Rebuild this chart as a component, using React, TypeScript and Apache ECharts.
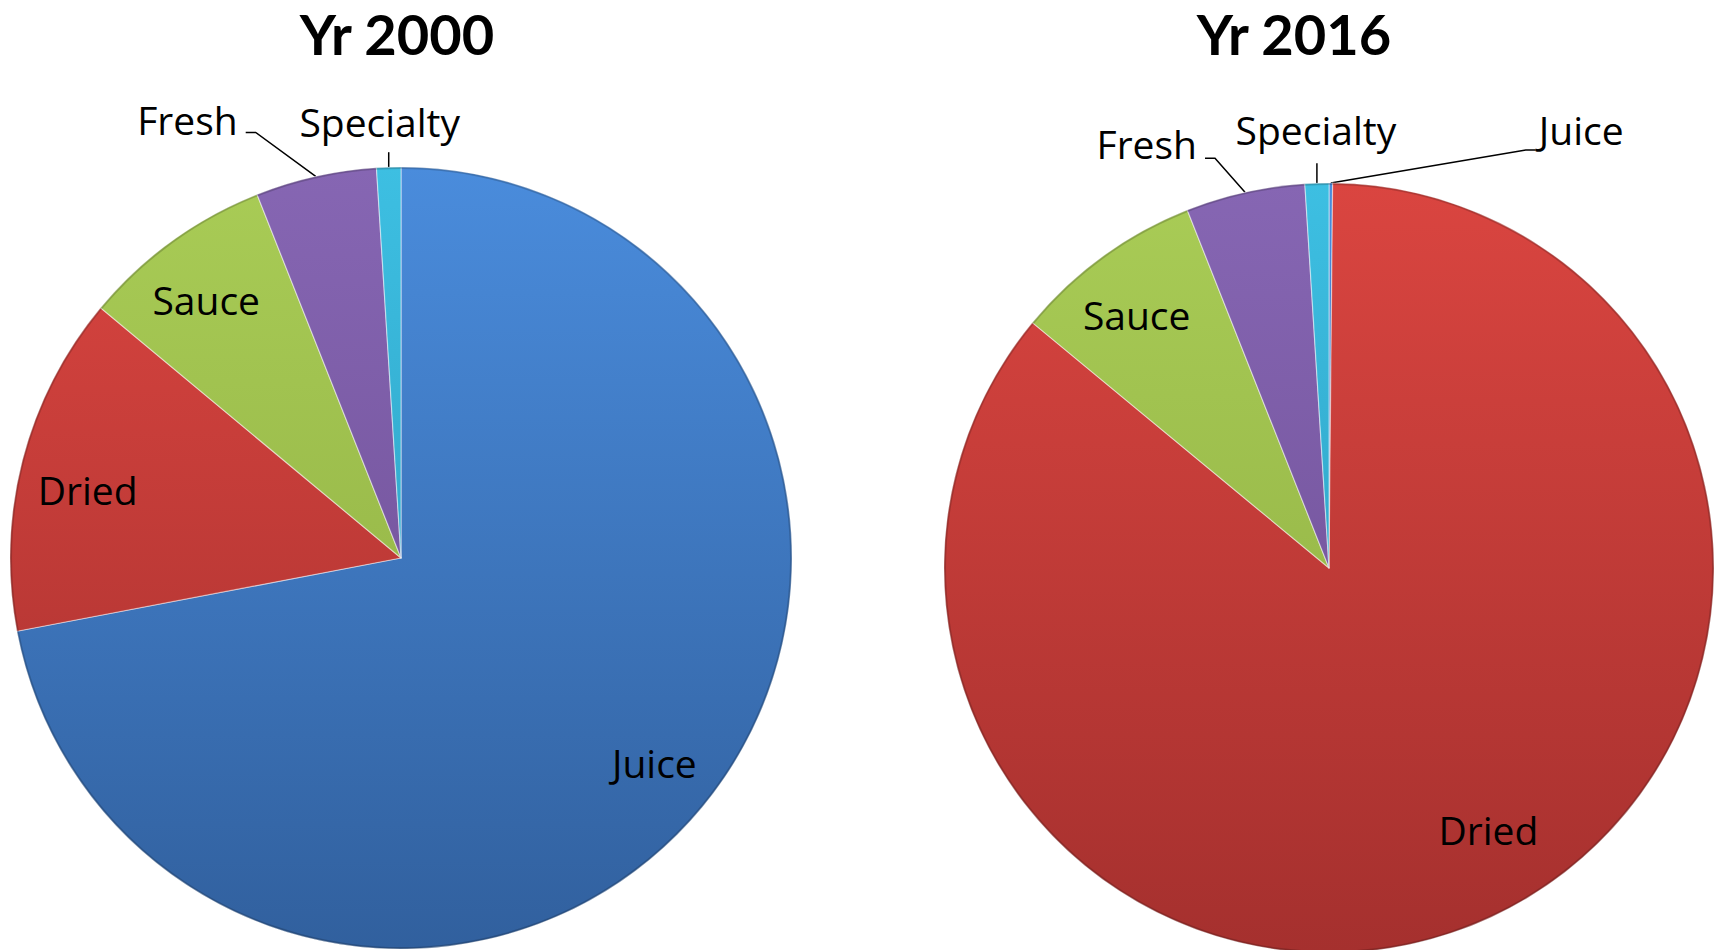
import React, { useEffect, useRef } from 'react';
import * as echarts from 'echarts';

// ---- data ----
const categories = ['Juice', 'Dried', 'Sauce', 'Fresh', 'Specialty'];
const values2000 = [72, 14.05, 7.95, 5, 1];
const values2016 = [0.15, 85.85, 8, 5, 1];
const titles = ['Yr 2000', 'Yr 2016'];

// ---- style ----
const topColors = ['#4A8CDC', '#DA4540', '#A9CC56', '#8666B3', '#3DBFE2'];
const bottomColors = ['#31609E', '#A5302E', '#8CAB40', '#6A4B90', '#2895B8'];
const TITLE_FONT = 'Lato, "Open Sans", sans-serif';
const LABEL_FONT = '"Open Sans", Lato, sans-serif';

type Outside = { line: number[][]; text: number[]; align: string };
type PieCfg = {
  cx: number;
  cy: number;
  r: number;
  titleX: number;
  titleY: number;
  values: number[];
  outside: Record<string, Outside>;
  insideShift: Record<string, number[]>;
};

const pies: PieCfg[] = [
  {
    cx: 401,
    cy: 558,
    r: 391,
    titleX: 397,
    titleY: 33,
    values: values2000,
    outside: {
      Fresh: { line: [[-60, -44], [-70, -44]], text: [-78, -57], align: 'right' },
      Specialty: { line: [[0, -15], [0, -15]], text: [-9, -46], align: 'center' },
    },
    insideShift: { Dried: [0, 12], Juice: [4, -2], Sauce: [-5, 4] },
  },
  {
    cx: 1329,
    cy: 568,
    r: 385,
    titleX: 1294,
    titleY: 33,
    values: values2016,
    outside: {
      Fresh: { line: [[-30, -34], [-40, -34]], text: [-48, -49], align: 'right' },
      Specialty: { line: [[0, -20], [0, -20]], text: [-1, -54], align: 'center' },
      Juice: { line: [[195, -33], [205, -33]], text: [208, -54], align: 'left' },
    },
    insideShift: { Dried: [25, -28], Sauce: [-5, 4] },
  },
];

function grad(i: number, top: number, bottom: number) {
  return new echarts.graphic.LinearGradient(
    0,
    top,
    0,
    bottom,
    [
      { offset: 0, color: topColors[i] },
      { offset: 1, color: bottomColors[i] },
    ],
    true
  );
}

export default function App() {
  const ref = useRef<HTMLDivElement>(null);

  useEffect(() => {
    if (!ref.current) return;
    const chart = echarts.init(ref.current, undefined, { renderer: 'svg' });

    const series: any[] = [];
    pies.forEach((p) => {
      series.push({
        type: 'pie',
        center: [p.cx, p.cy],
        radius: p.r,
        startAngle: 90,
        clockwise: true,
        silent: true,
        label: { show: false },
        labelLine: { show: false },
        itemStyle: {
          borderColor: 'rgba(255,255,255,0.45)',
          borderWidth: 1.2,
        },
        data: categories.map((name, i) => ({
          name,
          value: p.values[i],
          itemStyle: { color: grad(i, p.cy - p.r, p.cy + p.r) },
        })),
      });
      // thin darker outer rim to suggest the bevelled edge
      series.push({
        type: 'pie',
        center: [p.cx, p.cy],
        radius: [p.r - 2, p.r],
        startAngle: 90,
        clockwise: true,
        silent: true,
        label: { show: false },
        labelLine: { show: false },
        itemStyle: { color: 'rgba(0,0,0,0.18)', borderWidth: 0 },
        data: [{ name: 'rim', value: 1 }],
      });
      series.push({
        type: 'pie',
        center: [p.cx, p.cy],
        radius: [p.r * 0.64, p.r],
        startAngle: 90,
        clockwise: true,
        silent: true,
        avoidLabelOverlap: false,
        itemStyle: { color: 'rgba(0,0,0,0)', borderWidth: 0 },
        label: {
          show: true,
          position: 'inside',
          fontFamily: LABEL_FONT,
          fontSize: 39,
          color: '#000',
          formatter: '{b}',
        },
        labelLine: {
          show: true,
          length: 10,
          length2: 10,
          lineStyle: { color: '#000', width: 1.5 },
        },
        data: categories.map((name, i) => ({
          name,
          value: p.values[i],
          label: { position: p.outside[name] ? 'outside' : 'inside' },
          labelLine: { show: !!p.outside[name] },
        })),
        labelLayout: (params: any) => {
          const name = categories[params.dataIndex];
          const o = p.outside[name];
          if (o && params.labelLinePoints) {
            const p0 = params.labelLinePoints[0];
            return {
              x: p0[0] + o.text[0],
              y: p0[1] + o.text[1],
              align: o.align,
              verticalAlign: 'middle',
              labelLinePoints: [
                [p0[0], p0[1]],
                [p0[0] + o.line[0][0], p0[1] + o.line[0][1]],
                [p0[0] + o.line[1][0], p0[1] + o.line[1][1]],
              ],
            };
          }
          const s = p.insideShift[name];
          if (s) return { dx: s[0], dy: s[1] };
          return {};
        },
      });
    });

    chart.setOption({
      animation: false,
      backgroundColor: '#ffffff',
      graphic: pies.map((p, k) => ({
        type: 'text',
        x: p.titleX,
        y: p.titleY,
        style: {
          text: titles[k],
          fontFamily: TITLE_FONT,
          fontWeight: 'bold',
          fontSize: 56,
          fill: '#000',
          align: 'center',
          verticalAlign: 'middle',
        },
      })),
      series,
    });

    return () => chart.dispose();
  }, []);

  return (
    <div
      ref={ref}
      style={{ position: 'fixed', left: 0, top: 0, width: 1721, height: 950, background: '#fff' }}
    />
  );
}
